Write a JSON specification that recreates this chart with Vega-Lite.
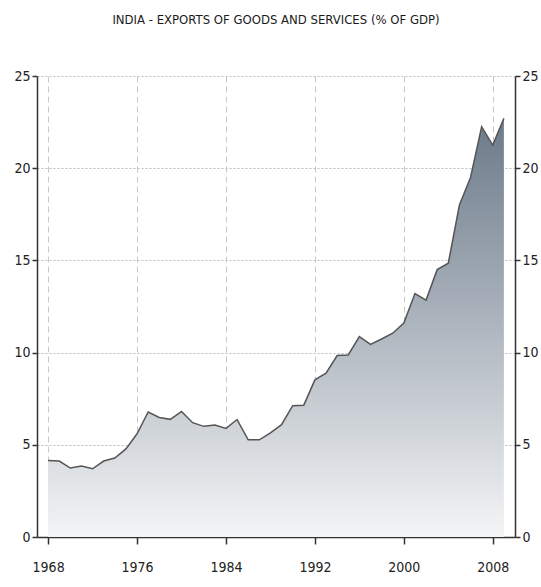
{
  "$schema": "https://vega.github.io/schema/vega-lite/v6.json",
  "autosize": {"type": "none"},
  "padding": {"left": 37, "top": 76, "right": 26, "bottom": 50},
  "width": 478,
  "height": 461,
  "background": "white",
  "title": {
    "text": "INDIA - EXPORTS OF GOODS AND SERVICES (% OF GDP)",
    "font": "DejaVu Sans Condensed",
    "fontSize": 13,
    "fontWeight": "normal",
    "color": "#1a1a1a",
    "anchor": "middle",
    "offset": 42
  },
  "data": {
    "values": [
      {"year": 1968, "value": 4.15}, {"year": 1969, "value": 4.12}, {"year": 1970, "value": 3.74},
      {"year": 1971, "value": 3.85}, {"year": 1972, "value": 3.70}, {"year": 1973, "value": 4.12},
      {"year": 1974, "value": 4.28}, {"year": 1975, "value": 4.78}, {"year": 1976, "value": 5.6},
      {"year": 1977, "value": 6.78}, {"year": 1978, "value": 6.48}, {"year": 1979, "value": 6.38},
      {"year": 1980, "value": 6.81}, {"year": 1981, "value": 6.2}, {"year": 1982, "value": 6.0},
      {"year": 1983, "value": 6.07}, {"year": 1984, "value": 5.89}, {"year": 1985, "value": 6.37},
      {"year": 1986, "value": 5.27}, {"year": 1987, "value": 5.27}, {"year": 1988, "value": 5.65},
      {"year": 1989, "value": 6.09}, {"year": 1990, "value": 7.12}, {"year": 1991, "value": 7.15},
      {"year": 1992, "value": 8.52}, {"year": 1993, "value": 8.88}, {"year": 1994, "value": 9.84},
      {"year": 1995, "value": 9.87}, {"year": 1996, "value": 10.87}, {"year": 1997, "value": 10.45},
      {"year": 1998, "value": 10.74}, {"year": 1999, "value": 11.05}, {"year": 2000, "value": 11.6},
      {"year": 2001, "value": 13.2}, {"year": 2002, "value": 12.85}, {"year": 2003, "value": 14.5},
      {"year": 2004, "value": 14.85}, {"year": 2005, "value": 18.0}, {"year": 2006, "value": 19.5},
      {"year": 2007, "value": 22.25}, {"year": 2008, "value": 21.25}, {"year": 2009, "value": 22.7}
    ]
  },
  "config": {
    "view": {"stroke": null},
    "axis": {
      "labelFont": "DejaVu Sans Condensed",
      "labelFontSize": 14,
      "labelColor": "#222",
      "domainColor": "#333",
      "domainWidth": 1.5,
      "tickColor": "#333",
      "tickWidth": 1.5,
      "tickSize": 5,
      "title": null
    }
  },
  "encoding": {
    "x": {
      "field": "year",
      "type": "quantitative",
      "scale": {"domain": [1967, 2010], "nice": false, "zero": false},
      "axis": {
        "values": [1968, 1976, 1984, 1992, 2000, 2008],
        "format": "d",
        "grid": true,
        "gridColor": "#c8c8c8",
        "gridDash": [6, 4],
        "gridWidth": 1,
        "tickSize": 7,
        "labelPadding": 16,
        "title": null
      }
    },
    "y": {
      "field": "value",
      "type": "quantitative",
      "scale": {"domain": [0, 25], "nice": false}
    }
  },
  "layer": [
    {
      "mark": {
        "type": "area",
        "interpolate": "linear",
        "color": {
          "gradient": "linear",
          "x1": 0, "y1": 0, "x2": 0, "y2": 1,
          "stops": [
            {"offset": 0, "color": "#6b7a89"},
            {"offset": 0.5, "color": "#aeb6bf"},
            {"offset": 1, "color": "#f4f5f6"}
          ]
        }
      },
      "encoding": {
        "y": {
          "field": "value",
          "type": "quantitative",
          "axis": {
            "orient": "left",
            "values": [0, 5, 10, 15, 20, 25],
            "grid": true,
            "gridColor": "#bdbdbd",
            "gridDash": [2, 2],
            "gridWidth": 1,
            "labelPadding": 2,
            "title": null
          }
        }
      }
    },
    {
      "mark": {"type": "line", "color": "#555555", "strokeWidth": 1.5},
      "encoding": {
        "y": {
          "field": "value",
          "type": "quantitative",
          "axis": {
            "orient": "right",
            "values": [0, 5, 10, 15, 20, 25],
            "grid": false,
            "labelPadding": 2,
            "title": null
          }
        }
      }
    }
  ],
  "resolve": {"axis": {"y": "independent"}}
}
